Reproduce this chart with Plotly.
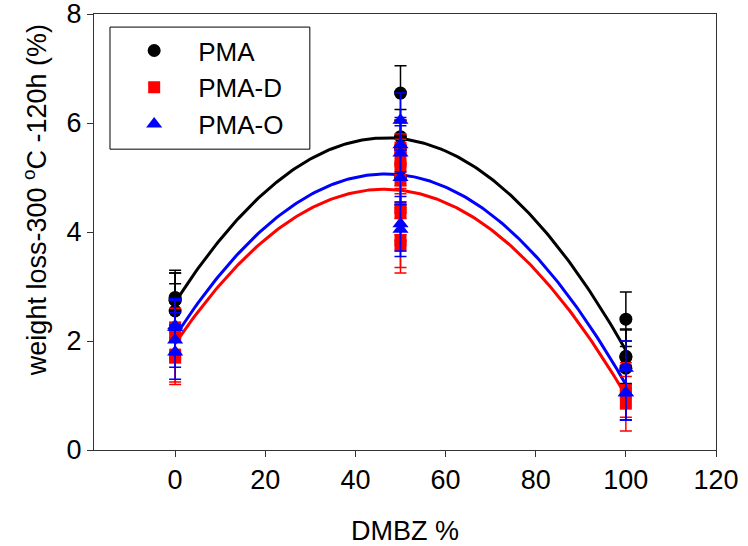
import numpy as np
import plotly.graph_objects as go

# DMBZ content (%) for each replicate
pma_x = [0, 0, 0, 0, 50, 50, 50, 50, 100, 100, 100, 100]
pma_y = [2.75, 2.55, 2.75, 2.80, 6.55, 5.75, 5.55, 5.00, 2.40, 1.72, 1.50, 1.70]
pma_err = [0.5, 0.5, 0.5, 0.5, 0.5, 0.5, 0.5, 0.5, 0.5, 0.5, 0.5, 0.5]

pmad_x = [0, 0, 0, 0, 50, 50, 50, 50, 50, 50, 50, 50, 50, 100, 100, 100]
pmad_y = [2.25, 2.10, 1.75, 1.70, 5.55, 5.50, 5.30, 5.20, 4.95, 4.45, 4.35, 3.85, 3.75, 1.05, 0.85, 1.10]
pmad_err = [0.5, 0.5, 0.5, 0.5, 0.5, 0.5, 0.5, 0.5, 0.5, 0.5, 0.5, 0.5, 0.5, 0.5, 0.5, 0.5]

pmao_x = [0, 0, 0, 0, 50, 50, 50, 50, 50, 50, 100, 100, 100]
pmao_y = [2.28, 2.02, 1.80, 2.25, 6.05, 5.60, 5.45, 5.00, 4.15, 4.05, 1.50, 1.05, 1.05]
pmao_err = [0.5, 0.5, 0.5, 0.5, 0.5, 0.5, 0.5, 0.5, 0.5, 0.5, 0.5, 0.5, 0.5]

x_ticks = [0, 20, 40, 60, 80, 100, 120]
y_ticks = [0, 2, 4, 6, 8]

series = [
    ("PMA", pma_x, pma_y, pma_err, "black", "circle", 13),
    ("PMA-D", pmad_x, pmad_y, pmad_err, "#ff0000", "square", 12),
    ("PMA-O", pmao_x, pmao_y, pmao_err, "#0000ff", "triangle-up", 14),
]

FONT = "Liberation Sans, Arial, sans-serif"
FS = 27
fig = go.Figure()

# quadratic regression curves
for name, xs, ys, es, col, sym, sz in series:
    coef = np.polyfit(xs, ys, 2)
    xf = np.linspace(min(xs), max(xs), 201)
    fig.add_trace(go.Scatter(x=xf, y=np.polyval(coef, xf), mode="lines",
                             line=dict(color=col, width=3), showlegend=False,
                             hoverinfo="skip"))

for name, xs, ys, es, col, sym, sz in series:
    fig.add_trace(go.Scatter(
        x=xs, y=ys, mode="markers", name=name,
        marker=dict(color=col, symbol=sym, size=sz, line=dict(width=0)),
        error_y=dict(type="data", array=es, visible=True, color=col,
                     thickness=1.5, width=6),
    ))

fig.update_layout(
    width=748, height=546,
    margin=dict(l=94, r=32, t=14, b=96),
    paper_bgcolor="white", plot_bgcolor="white",
    font=dict(family=FONT, size=FS, color="black"),
    showlegend=True,
    legend=dict(x=0.026, y=0.97, xanchor="left", yanchor="top",
                borderwidth=0, bgcolor="rgba(0,0,0,0)",
                font=dict(family=FONT, size=26), itemwidth=78,
                tracegroupgap=0),
    shapes=[dict(type="rect", xref="paper", yref="paper",
                 x0=0.0257, x1=0.347, y0=0.690, y1=0.970,
                 line=dict(color="black", width=1), fillcolor="rgba(0,0,0,0)",
                 layer="above")],
    annotations=[dict(text="weight loss-300 <sup>o</sup>C -120h (%)",
                      xref="paper", yref="paper", x=-0.0949, y=0.573,
                      xanchor="center", yanchor="middle", textangle=-90,
                      showarrow=False, font=dict(family=FONT, size=FS))],
)
fig.update_xaxes(range=[-18, 120], tickvals=x_ticks, ticks="outside", ticklen=6,
                 tickcolor="#333", showline=True, linecolor="#333", linewidth=1,
                 mirror=True, showgrid=False, zeroline=False, automargin=False,
                 ticklabeloverflow="allow",
                 title=dict(text="DMBZ %", font=dict(size=FS), standoff=26),
                 tickfont=dict(size=FS))
fig.update_yaxes(range=[0, 8], tickvals=y_ticks, ticks="outside", ticklen=6,
                 tickcolor="#333", showline=True, linecolor="#333", linewidth=1,
                 mirror=True, showgrid=False, zeroline=False, automargin=False,
                 ticklabeloverflow="allow", tickfont=dict(size=FS))

fig.write_html("out.html", config={"displayModeBar": False},
               post_script="document.body.style.margin='0';")
